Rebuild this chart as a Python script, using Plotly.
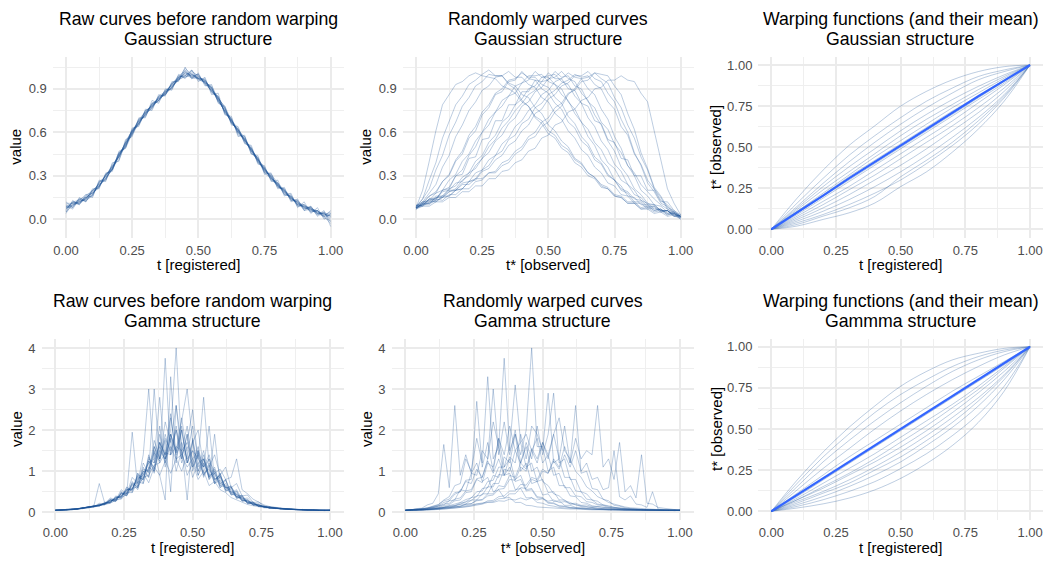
import plotly.graph_objects as go

W, H = 1053, 563
FONT = "Liberation Sans, Arial, Helvetica, sans-serif"
LINE_COL = "rgba(28, 82, 150, 0.29)"
MEAN_COL = "#3366FF"
GRID_MAJOR = "#EBEBEB"
GRID_MINOR = "#EFEFEF"

# ---------------- sampling grids ----------------
t_fine = [i / 40 for i in range(41)]      # Gaussian curves
t_gamma = [i / 50 for i in range(51)]     # Gamma curves
t_warp = [i / 10 for i in range(11)]      # warping functions

# ---------------- Gaussian structure: raw curves ----------------
gauss_raw = [
    [.09,.11,.11,.15,.19,.23,.30,.37,.43,.53, .61,.66,.74,.79,.82,.88,.93,.96,1.01,.99,
     .97,.96,.89,.84,.74,.69,.60,.56,.47,.42, .33,.30,.23,.20,.14,.12,.08,.08,.04,.04, .01],
    [.06,.12,.13,.13,.17,.25,.28,.35,.45,.51, .59,.68,.72,.77,.84,.86,.91,.98,.99,1.02,
     .99,.94,.91,.82,.76,.67,.62,.54,.49,.40, .35,.28,.25,.18,.16,.10,.10,.06,.06,.02, .03],
    [.10,.09,.14,.15,.18,.22,.31,.34,.44,.53, .58,.66,.75,.78,.82,.89,.92,.96,1.03,.98,
     .97,.96,.88,.84,.77,.66,.62,.53,.48,.42, .33,.30,.23,.20,.13,.12,.07,.08,.04,.02, .03],
    [.05,.10,.11,.16,.20,.24,.27,.37,.42,.54, .61,.68,.71,.80,.83,.86,.94,.97,.98,1.01,
     .96,.95,.91,.81,.75,.69,.59,.56,.46,.41, .36,.27,.24,.17,.16,.10,.09,.05,.06,.01, -.01],
    [.11,.11,.12,.14,.17,.25,.30,.35,.46,.50, .62,.66,.73,.77,.85,.88,.90,.98,1.00,.99,
     1.00,.93,.89,.85,.73,.68,.63,.54,.50,.39, .35,.29,.22,.21,.14,.13,.08,.06,.05,.04, .00],
    [.08,.09,.14,.12,.19,.23,.28,.38,.43,.51, .60,.69,.74,.76,.84,.87,.93,.99,1.02,.97,
     .98,.96,.90,.82,.75,.67,.61,.57,.47,.40, .34,.31,.25,.18,.15,.11,.10,.07,.03,.05, .02],
    [.07,.12,.10,.15,.16,.26,.29,.34,.45,.52, .59,.67,.72,.80,.81,.88,.91,.96,.99,1.03,
     .97,.94,.92,.83,.78,.68,.60,.55,.49,.41, .32,.28,.24,.19,.17,.09,.09,.08,.05,.03, .04],
    [.09,.08,.13,.17,.18,.22,.31,.36,.41,.52, .61,.65,.73,.79,.83,.86,.92,.97,1.04,1.00,
     .98,.95,.88,.84,.76,.69,.61,.54,.48,.42, .35,.29,.23,.19,.14,.12,.06,.07,.05,.02, -.03],
    [.04,.11,.12,.14,.20,.24,.28,.35,.44,.50, .60,.68,.74,.78,.82,.87,.93,.98,.99,.98,
     .99,.94,.89,.82,.75,.67,.62,.55,.47,.41, .34,.28,.25,.20,.15,.10,.09,.07,.04,.04, .02],
    [.08,.10,.12,.15,.18,.23,.30,.36,.43,.53, .60,.66,.73,.78,.84,.87,.91,.97,1.01,1.00,
     .97,.95,.90,.83,.74,.68,.60,.55,.48,.41, .34,.29,.24,.19,.15,.11,.08,.07,.06,.03, .05],
    [.12,.08,.15,.12,.21,.21,.32,.33,.47,.49, .63,.64,.76,.75,.86,.85,.95,.95,1.05,.97,
     1.01,.92,.93,.80,.78,.65,.64,.52,.51,.38, .37,.26,.27,.16,.18,.08,.12,.04,.08,.00, .04],
    [.05,.13,.10,.17,.15,.27,.26,.39,.40,.55, .57,.70,.70,.82,.80,.90,.89,1.00,.97,1.03,
     .95,.98,.86,.87,.72,.71,.57,.58,.45,.44, .31,.32,.21,.22,.12,.14,.06,.09,.02,.05, -.02],
    [.09,.07,.14,.13,.16,.26,.27,.35,.46,.49, .59,.69,.71,.80,.82,.89,.90,.99,.98,1.00,
     .97,.97,.87,.85,.73,.70,.58,.57,.45,.43, .32,.31,.22,.21,.13,.13,.07,.09,.03,.06, -.05],
    [.07,.12,.11,.14,.20,.22,.31,.34,.45,.50, .62,.65,.75,.77,.85,.86,.94,.96,1.02,.98,
     1.00,.93,.91,.81,.77,.66,.62,.53,.49,.39, .36,.27,.25,.17,.16,.09,.10,.05,.06,.02, .06],
]

# ---------------- Gaussian structure: warped curves ----------------
gauss_warped = [
    [.08,.20,.40,.61,.79,.86,.93,.95,.99,1.01, .99,.98,.97,.92,.90,.87,.81,.78,.71,.68,
     .61,.58,.51,.48,.41,.38,.32,.29,.24,.22, .17,.16,.12,.12,.08,.09,.06,.07,.04,.05, .02],
    [.09,.14,.27,.39,.56,.67,.79,.85,.93,.96, 1.00,1.03,.99,.99,.94,.92,.86,.84,.77,.73,
     .65,.61,.54,.50,.42,.39,.32,.29,.23,.21, .16,.15,.11,.11,.07,.08,.05,.06,.03,.04, .01],
    [.07,.12,.18,.24,.36,.44,.57,.65,.75,.81, .89,.92,.98,.99,1.02,.98,.98,.93,.91,.84,
     .81,.73,.69,.61,.56,.48,.44,.36,.32,.25, .23,.17,.16,.11,.11,.07,.08,.05,.06,.02, .03],
    [.08,.11,.16,.18,.26,.31,.41,.47,.58,.64, .74,.79,.87,.90,.96,.97,1.01,.98,.98,.93,
     .91,.84,.80,.71,.66,.57,.52,.43,.39,.31, .27,.20,.18,.12,.12,.08,.09,.05,.06,.02, .01],
    [.09,.12,.13,.18,.20,.27,.31,.40,.45,.54, .60,.69,.74,.82,.85,.92,.94,.99,.99,1.00,
     .95,.93,.86,.82,.73,.67,.57,.51,.41,.36, .27,.23,.16,.15,.10,.10,.06,.07,.03,.04, .00],
    [.08,.10,.14,.14,.20,.22,.30,.34,.44,.50, .60,.65,.74,.78,.85,.87,.94,.96,1.02,.98,
     .98,.93,.90,.81,.76,.67,.62,.53,.48,.39, .35,.27,.24,.17,.15,.10,.10,.06,.06,.02, .02],
    [.07,.11,.11,.15,.16,.21,.23,.29,.32,.40, .44,.53,.58,.67,.71,.79,.83,.90,.92,.98,
     .99,1.00,.95,.93,.85,.80,.70,.64,.54,.48, .38,.33,.24,.20,.13,.11,.07,.07,.04,.04, .01],
    [.09,.10,.14,.14,.19,.20,.25,.26,.32,.35, .42,.46,.54,.58,.66,.70,.78,.81,.88,.91,
     .97,.98,1.02,.97,.95,.87,.82,.72,.65,.54, .47,.36,.30,.21,.17,.11,.10,.06,.06,.03, .02],
    [.08,.11,.11,.15,.15,.19,.20,.25,.26,.32, .34,.41,.44,.52,.56,.64,.68,.75,.79,.86,
     .89,.95,.97,1.01,.98,.97,.90,.86,.76,.69, .57,.49,.37,.30,.20,.16,.10,.09,.05,.05, .02],
    [.08,.10,.13,.12,.16,.16,.20,.21,.26,.27, .33,.35,.41,.44,.51,.54,.61,.65,.73,.76,
     .83,.86,.92,.94,.99,.99,1.02,.97,.95,.87, .81,.69,.60,.46,.37,.25,.19,.11,.09,.04, .02],
    [.08,.10,.10,.14,.13,.17,.17,.21,.21,.26, .27,.32,.33,.39,.41,.47,.50,.57,.60,.67,
     .70,.77,.80,.87,.89,.95,.96,1.01,1.00,.99, .92,.86,.73,.62,.46,.35,.22,.16,.08,.06, .02],
    [.07,.09,.09,.12,.12,.15,.15,.19,.19,.23, .23,.28,.28,.33,.34,.39,.41,.47,.49,.56,
     .58,.65,.67,.74,.76,.82,.84,.90,.91,.96, .96,.99,.96,.95,.87,.81,.61,.42,.21,.11, .03],
    [.09,.12,.12,.16,.16,.20,.20,.24,.24,.28, .28,.32,.32,.37,.39,.45,.48,.55,.57,.64,
     .67,.74,.78,.86,.90,.97,.98,1.01,.97,.94, .84,.77,.65,.56,.43,.34,.21,.15,.07,.05, .01],
    [.08,.14,.21,.34,.44,.58,.67,.78,.84,.92, .95,1.00,.99,.99,.93,.90,.82,.78,.70,.66,
     .59,.56,.49,.46,.39,.36,.30,.28,.22,.21, .16,.15,.11,.11,.07,.07,.04,.05,.02,.03, .00],
    [.10,.09,.14,.13,.20,.21,.30,.31,.42,.43, .55,.56,.68,.68,.79,.79,.88,.88,.96,.95,
     1.01,.97,.97,.90,.89,.80,.78,.68,.66,.55, .53,.42,.41,.30,.30,.20,.20,.12,.12,.06, .03],
    [.07,.10,.11,.13,.15,.19,.21,.27,.30,.37, .42,.50,.55,.63,.68,.75,.80,.86,.89,.95,
     .96,1.02,.98,.99,.92,.90,.81,.77,.67,.62, .52,.46,.37,.32,.24,.19,.14,.10,.07,.04, .02],
    [.09,.11,.16,.19,.26,.30,.40,.45,.56,.61, .72,.77,.86,.88,.95,.96,1.02,.97,.96,.90,
     .87,.80,.76,.67,.63,.54,.50,.41,.38,.30, .27,.21,.19,.14,.13,.09,.09,.06,.06,.03, .02],
    [.08,.09,.12,.12,.15,.16,.20,.21,.26,.28, .34,.37,.44,.47,.55,.58,.66,.69,.77,.80,
     .86,.89,.94,.96,1.00,.98,.99,.93,.90,.81, .76,.64,.58,.45,.38,.27,.21,.13,.10,.05, .02],
]

# ---------------- Gaussian structure: warping functions ----------------
gauss_warps = [
    [0, .19, .36, .51, .63, .75, .84, .91, .96, .99, 1],
    [0, .16, .31, .45, .57, .68, .78, .86, .93, .97, 1],
    [0, .14, .28, .41, .53, .64, .74, .83, .91, .96, 1],
    [0, .13, .26, .38, .49, .60, .70, .79, .87, .94, 1],
    [0, .12, .24, .35, .46, .57, .67, .76, .85, .93, 1],
    [0, .11, .22, .33, .44, .54, .64, .74, .83, .92, 1],
    [0, .11, .21, .32, .42, .52, .62, .72, .81, .91, 1],
    [0, .10, .20, .30, .40, .50, .60, .70, .80, .90, 1],
    [0, .09, .19, .29, .39, .49, .59, .69, .79, .89, 1],
    [0, .08, .17, .26, .36, .46, .56, .66, .77, .88, 1],
    [0, .07, .15, .24, .33, .43, .53, .63, .74, .86, 1],
    [0, .06, .13, .21, .30, .39, .49, .60, .71, .84, 1],
    [0, .05, .11, .18, .26, .35, .45, .56, .68, .82, 1],
    [0, .04, .09, .15, .22, .30, .40, .51, .64, .80, 1],
    [0, .03, .08, .13, .20, .32, .42, .53, .66, .81, 1],
    [0, .02, .06, .10, .16, .26, .35, .47, .61, .78, 1],
]
gauss_warp_mean = [0, .10, .205, .31, .41, .515, .615, .715, .81, .905, 1]

# ---------------- Gamma structure: raw curves ----------------
gamma_raw = [
    [.05,.06,.06,.08,.07,.12,.11,.17,.15,.25, .22,.40,.33,.62,.48,.95,.70,1.40,.95,1.90,
     1.30,2.30,1.45,2.00,1.20,1.75,1.00,1.40,.80,1.05, .60,.78,.42,.50,.27,.31,.17,.19,.12,.13,
     .09,.10,.07,.08,.06,.07,.05,.06,.05,.05, .05],
    [.05,.05,.07,.06,.09,.09,.14,.13,.20,.18, .31,.27,.48,.42,.75,.58,1.10,.85,1.60,1.20,
     3.75,1.40,2.10,1.30,1.90,1.10,1.50,.90,1.20,.70, .88,.50,.60,.33,.38,.21,.23,.14,.15,.10,
     .11,.08,.09,.07,.07,.06,.06,.05,.05,.04, .05],
    [.06,.05,.06,.08,.08,.11,.12,.15,.18,.22, .24,.36,.38,.55,.56,.88,.80,1.25,1.10,1.70,
     1.40,2.00,4.00,1.50,2.10,1.20,1.60,1.00,1.30,.75, .95,.55,.65,.36,.40,.23,.24,.15,.15,.10,
     .11,.08,.09,.07,.07,.06,.05,.06,.05,.05, .04],
    [.05,.05,.06,.07,.09,.10,.13,.15,.18,.22, .30,.28,.48,.40,.68,.55,.95,.72,1.10,.90,
     1.25,.95,1.30,1.00,1.40,.85,1.20,.95,1.05,.80, .90,.60,.62,.42,.40,.27,.25,.17,.15,.12,
     .10,.10,.08,.08,.07,.06,.06,.05,.05,.05, .05],
    [.05,.06,.06,.07,.08,.11,.13,.14,.22,.20, .35,.30,.55,.45,.85,.70,1.40,3.00,1.20,2.10,
     1.10,1.80,1.00,1.50,.90,1.20,.80,1.00,.65,.75, .55,.48,.36,.30,.24,.19,.16,.13,.11,.10,
     .09,.08,.07,.07,.06,.06,.05,.05,.05,.05, .05],
    [.05,.05,.06,.06,.08,.09,.12,.14,.16,.21, .28,.30,.45,.45,.70,.65,1.00,1.00,1.60,1.30,
     2.20,1.70,2.60,1.60,.30,1.80,1.10,1.50,.85,1.10, .65,.80,.45,.52,.28,.30,.18,.19,.12,.12,
     .10,.09,.08,.07,.07,.06,.06,.05,.05,.05, .05],
    [.05,.06,.05,.07,.08,.10,.13,.15,.15,.22, .24,.38,.35,.55,.55,.85,.80,1.25,1.00,1.60,
     1.25,1.90,1.45,2.20,3.00,1.70,2.00,1.10,1.40,.80, .90,.60,.62,.38,.42,.22,.25,.14,.15,.10,
     .10,.08,.08,.07,.06,.07,.05,.06,.05,.05, .05],
    [.05,.05,.07,.07,.08,.10,.14,.14,.18,.22, .32,.30,.50,.45,1.95,.60,1.20,.95,1.75,1.30,
     1.90,1.40,2.00,1.20,1.60,1.10,1.40,.85,1.15,.70, .95,.52,.60,.35,.38,.21,.22,.15,.14,.11,
     .10,.09,.08,.07,.06,.06,.06,.05,.05,.05, .05],
    [.05,.05,.06,.07,.08,.09,.11,.13,.16,.19, .22,.30,.32,.48,.48,.75,.70,1.10,1.00,1.50,
     1.30,1.90,1.50,2.30,1.40,2.10,1.30,2.80,1.10,1.40, .90,1.10,.60,.70,.40,.42,.24,.25,.15,.14,
     .11,.09,.08,.08,.07,.06,.06,.05,.05,.05, .05],
    [.05,.05,.06,.07,.07,.10,.12,.14,.17,.21, .30,.26,.46,.40,.72,.60,1.00,.85,1.50,.90,
     .30,3.30,1.20,2.10,1.20,1.70,.90,1.30,.80,.95, .60,.70,.42,.45,.28,.28,.18,.18,.12,.12,
     .10,.09,.07,.07,.06,.06,.05,.05,.05,.05, .05],
    [.05,.06,.06,.07,.09,.10,.12,.16,.17,.23, .25,.36,.40,.56,.58,.82,.90,1.20,1.30,2.80,
     1.30,1.60,1.30,1.40,1.10,1.30,.90,1.20,.85,1.90, .70,.80,.48,.55,.32,.35,.20,.21,.13,.13,
     .10,.10,.08,.07,.07,.06,.05,.05,.05,.05, .05],
    [.05,.05,.06,.07,.08,.10,.13,.14,.17,.20, .27,.33,.40,.55,.55,.90,.85,1.30,1.20,1.70,
     1.40,2.40,1.30,2.00,1.20,1.50,1.30,1.10,2.10,.80, .85,.60,.55,.38,.35,.24,.22,.16,.14,.11,
     .10,.09,.08,.07,.07,.06,.06,.05,.05,.05, .05],
    [.05,.06,.06,.07,.09,.10,.14,.15,.70,.22, .25,.35,.38,.60,.52,.95,.78,1.35,1.05,1.70,
     1.20,1.90,1.40,1.70,1.30,1.50,1.00,1.30,.85,1.00, .70,.65,.50,.44,.33,.28,.21,.17,.13,.12,
     .10,.09,.08,.07,.07,.06,.06,.05,.05,.05, .05],
    [.05,.05,.06,.07,.08,.09,.11,.13,.16,.19, .24,.28,.37,.42,.58,.62,.85,.90,1.15,1.20,
     1.45,1.40,1.60,1.50,1.70,1.30,1.50,1.10,1.30,.95, 1.05,.80,.85,1.30,.55,.45,.32,.25,.18,.14,
     .12,.10,.09,.08,.07,.07,.06,.06,.05,.05, .05],
    [.05,.06,.06,.07,.08,.11,.12,.15,.17,.21, .26,.34,.38,.52,.60,.78,.98,1.05,1.45,1.25,
     1.75,.50,2.60,1.30,1.90,1.00,1.45,.90,1.10,.70, .78,.55,.50,.38,.31,.26,.19,.16,.13,.11,
     .10,.09,.08,.07,.07,.06,.06,.05,.05,.05, .05],
    [.05,.05,.06,.07,.08,.10,.12,.14,.18,.20, .29,.31,.44,.48,.66,.72,1.05,1.00,3.00,1.30,
     1.80,1.50,2.00,1.40,1.70,2.50,1.20,1.30,.90,.95, .65,.62,.45,.40,.29,.25,.19,.16,.13,.11,
     .10,.09,.08,.07,.07,.06,.06,.05,.05,.05, .05],
]

# ---------------- Gamma structure: warped curves ----------------
gamma_warped = [
    [.05,.06,.09,.10,.18,.22,.45,1.65,.60,2.60, .90,1.40,.95,1.20,.75,.85,.50,.55,.35,.36,
     .24,.24,.17,.16,.13,.12,.11,.10,.09,.09, .08,.08,.07,.07,.06,.06,.06,.06,.05,.05,
     .05,.05,.05,.05,.05,.05,.05,.05,.05,.04, .05],
    [.05,.05,.06,.08,.10,.14,.18,.30,.38,.65, .70,1.30,1.00,1.80,1.20,3.30,1.30,1.60,.90,.95,
     .55,.58,.35,.36,.24,.22,.17,.15,.12,.11, .10,.09,.08,.08,.07,.07,.06,.06,.06,.05,
     .05,.05,.05,.05,.05,.05,.05,.05,.05,.05, .05],
    [.05,.05,.06,.07,.09,.11,.15,.18,.28,.30, .55,.52,.95,.90,1.50,1.30,2.20,1.60,3.75,1.50,
     1.90,1.00,1.20,.70,.75,.42,.45,.26,.28,.17, .17,.12,.12,.10,.10,.08,.08,.07,.07,.06,
     .06,.06,.05,.05,.05,.05,.05,.05,.05,.05, .04],
    [.05,.06,.06,.07,.08,.11,.12,.16,.19,.28, .30,.48,.50,.80,.72,1.20,1.10,1.80,1.40,2.10,
     1.50,1.70,1.10,1.20,.75,.80,.48,.50,.30,.30, .20,.19,.14,.13,.11,.10,.09,.08,.07,.07,
     .06,.06,.05,.05,.05,.05,.05,.05,.05,.05, .05],
    [.05,.05,.06,.06,.07,.08,.10,.12,.15,.16, .23,.24,.36,.38,.58,.60,.90,.85,1.35,1.20,
     1.90,1.40,2.00,4.00,1.60,1.60,1.00,1.10,.65,.65, .40,.38,.24,.22,.16,.14,.12,.10,.09,.08,
     .07,.07,.06,.06,.05,.05,.05,.05,.05,.05, .05],
    [.05,.05,.06,.06,.07,.08,.09,.11,.13,.15, .20,.20,.30,.30,.45,.45,.70,.70,1.05,1.00,
     1.50,1.20,1.70,1.30,2.10,1.40,1.90,2.90,1.20,1.30, .80,.80,.50,.45,.30,.27,.18,.16,.12,.10,
     .09,.08,.07,.06,.06,.06,.05,.05,.05,.05, .05],
    [.05,.05,.05,.06,.06,.07,.08,.09,.11,.13, .15,.19,.21,.28,.30,.40,.42,.56,.58,.80,
     .78,1.10,1.00,1.50,1.20,1.70,1.30,1.90,1.30,2.10, 1.20,2.60,.95,1.00,.58,.55,.32,.28,.17,.15,
     .11,.09,.08,.07,.06,.06,.05,.05,.05,.05, .05],
    [.05,.05,.05,.06,.06,.06,.07,.08,.09,.10, .11,.13,.15,.17,.20,.24,.26,.33,.34,.45,
     .45,.60,.58,.80,.75,1.00,.95,1.30,1.10,1.60, 1.20,1.80,1.30,1.50,1.40,2.60,1.10,1.30,.80,1.70,
     .50,.65,.35,1.40,.22,.20,.12,.10,.08,.06, .05],
    [.05,.05,.05,.06,.06,.07,.07,.08,.09,.10, .12,.14,.16,.20,.21,.28,.29,.38,.40,.52,
     .52,.68,.66,.85,.80,1.05,.95,1.25,1.05,1.40, 1.10,1.50,1.00,1.20,.80,.85,.55,.60,1.50,.38,
     .30,.40,.20,.18,.12,.50,.08,.07,.06,.05, .05],
    [.05,.05,.06,.06,.07,.08,.09,.10,.11,.13, .14,.16,.18,.20,.22,.25,.24,.28,.27,.32,
     .30,.35,.30,.35,.30,.33,.27,.30,.24,.26, .21,.22,.17,.18,.14,.14,.12,.11,.09,.09,
     .08,.07,.07,.06,.06,.06,.05,.05,.05,.05, .05],
    [.05,.06,.07,.08,.10,.12,.15,.20,.22,.32, .35,.52,.55,.82,.85,1.30,3.00,1.40,2.20,1.40,
     2.00,1.20,1.60,1.00,1.10,.75,.65,.45,.40,.28, .24,.18,.16,.13,.11,.10,.09,.08,.07,.07,
     .06,.06,.05,.05,.05,.05,.05,.05,.05,.05, .05],
    [.05,.05,.06,.06,.07,.08,.10,.12,.14,.17, .19,.27,.28,.40,.42,.62,.62,.92,.90,1.35,
     1.20,1.90,1.30,2.10,1.90,1.50,2.90,1.20,1.30,.85, .85,.52,.50,.32,.30,.20,.18,.14,.12,.10,
     .09,.08,.07,.07,.06,.06,.05,.05,.05,.05, .05],
    [.05,.06,.07,.08,.10,.13,.16,.24,.28,.44, .50,.78,.80,2.70,1.10,1.70,1.00,1.80,1.10,1.30,
     .80,.90,.55,.58,.38,.36,.24,.23,.16,.15, .12,.11,.09,.09,.08,.07,.07,.06,.06,.06,
     .05,.05,.05,.05,.05,.05,.05,.05,.05,.05, .05],
    [.05,.05,.05,.06,.07,.07,.08,.10,.11,.13, .15,.20,.21,.30,.31,.45,.45,.65,.62,.90,
     .85,1.20,1.05,1.55,1.30,1.70,1.40,1.90,2.30,1.50, 1.30,1.00,.85,.62,.52,.38,.32,.24,.20,.16,
     .13,.11,.10,.09,.08,.07,.06,.06,.05,.05, .05],
    [.05,.06,.07,.09,.11,.15,.19,.28,.32,.48, .50,.75,.70,1.05,.85,1.25,.95,1.30,.90,1.10,
     .75,.80,.52,.55,.35,.34,.22,.21,.15,.14, .11,.10,.09,.08,.08,.07,.07,.06,.06,.06,
     .05,.05,.05,.05,.05,.05,.05,.05,.05,.05, .05],
    [.05,.05,.06,.07,.08,.09,.11,.13,.16,.20, .24,.31,.35,.50,.52,.75,.78,1.10,1.10,1.60,
     3.10,1.70,1.90,1.50,1.80,1.20,1.40,.90,.95,.60, .60,.40,.38,.26,.24,.18,.16,.12,.11,.09,
     .08,.08,.07,.06,.06,.06,.05,.05,.05,.05, .05],
]

# ---------------- Gamma structure: warping functions ----------------
gamma_warps = [
    [0, .19, .36, .51, .64, .76, .85, .92, .96, .99, 1],
    [0, .17, .33, .47, .60, .71, .80, .88, .94, .98, 1],
    [0, .15, .30, .43, .55, .66, .76, .85, .92, .97, 1],
    [0, .13, .26, .38, .50, .61, .71, .80, .88, .95, 1],
    [0, .11, .22, .33, .43, .53, .63, .73, .82, .91, 1],
    [0, .09, .19, .29, .39, .49, .59, .69, .79, .89, 1],
    [0, .08, .17, .26, .35, .45, .55, .65, .76, .88, 1],
    [0, .07, .15, .23, .32, .42, .52, .63, .74, .87, 1],
    [0, .07, .14, .22, .30, .39, .49, .60, .72, .85, 1],
    [0, .06, .12, .19, .27, .36, .46, .57, .69, .83, 1],
    [0, .05, .11, .17, .25, .33, .43, .54, .67, .82, 1],
    [0, .04, .09, .15, .22, .30, .40, .51, .64, .80, 1],
    [0, .03, .07, .12, .18, .26, .35, .46, .59, .76, 1],
    [0, .02, .045, .08, .13, .20, .29, .40, .54, .73, 1],
]
gamma_warp_mean = [0, .10, .20, .30, .40, .50, .60, .70, .80, .90, 1]

# ---------------- panel text ----------------
titles = [
    ("Raw curves before random warping", "Gaussian structure"),
    ("Randomly warped curves", "Gaussian structure"),
    ("Warping functions (and their mean)", "Gaussian structure"),
    ("Raw curves before random warping", "Gamma structure"),
    ("Randomly warped curves", "Gamma structure"),
    ("Warping functions (and their mean)", "Gammma structure"),
]
x_titles = ["t [registered]", "t* [observed]", "t [registered]",
            "t [registered]", "t* [observed]", "t [registered]"]
y_titles = ["value", "value", "t* [observed]", "value", "value", "t* [observed]"]

# ---------------- panel geometry (pixels) ----------------
# (left, right, top, bottom) of each plotting region
boxes = [
    (52.8, 343.9, 56.8, 237.5),
    (402.8, 693.9, 56.8, 237.5),
    (758.4, 1043.0, 56.8, 237.5),
    (41.6, 343.7, 338.5, 519.5),
    (391.6, 693.7, 338.5, 519.5),
    (758.4, 1043.0, 338.5, 519.5),
]
y_ranges = [[-0.126, 1.121], [-0.126, 1.121], [-0.05, 1.05],
            [-0.175, 4.23], [-0.175, 4.23], [-0.05, 1.05]]
y_dticks = [0.3, 0.3, 0.25, 1, 1, 0.25]
y_formats = [".1f", ".1f", ".2f", "d", "d", ".2f"]
ytitle_x = [15.5, 365.5, 715.0, 16.0, 366.0, 716.0]

TICK_FONT = dict(family=FONT, size=13, color="#4D4D4D")

fig = go.Figure()


def add_lines(idx, xs, curves, shape="linear"):
    ax = "" if idx == 0 else str(idx + 1)
    for ys in curves:
        assert len(ys) == len(xs)
        fig.add_trace(go.Scatter(
            x=xs, y=ys, mode="lines", xaxis="x" + ax, yaxis="y" + ax,
            line=dict(color=LINE_COL, width=1, shape=shape),
            hoverinfo="skip", showlegend=False))


def add_mean(idx, xs, ys):
    ax = str(idx + 1)
    fig.add_trace(go.Scatter(
        x=xs, y=ys, mode="lines", xaxis="x" + ax, yaxis="y" + ax,
        line=dict(color=MEAN_COL, width=2.2),
        hoverinfo="skip", showlegend=False))


add_lines(0, t_fine, gauss_raw)
add_lines(1, t_fine, gauss_warped)
add_lines(2, t_warp, gauss_warps, shape="spline")
add_mean(2, t_warp, gauss_warp_mean)
add_lines(3, t_gamma, gamma_raw)
add_lines(4, t_gamma, gamma_warped)
add_lines(5, t_warp, gamma_warps, shape="spline")
add_mean(5, t_warp, gamma_warp_mean)

annotations = []
layout_axes = {}
for i, (l, r, tp, bt) in enumerate(boxes):
    ax = "" if i == 0 else str(i + 1)
    layout_axes["xaxis" + ax] = dict(
        domain=[l / W, r / W], anchor="y" + ax, range=[-0.05, 1.05],
        tick0=0, dtick=0.25, tickformat=".2f", showline=False, zeroline=False,
        showgrid=True, gridcolor=GRID_MAJOR, gridwidth=2,
        minor=dict(tick0=0, dtick=0.125, showgrid=True, gridcolor=GRID_MINOR, gridwidth=1),
        ticks="", ticklabelstandoff=3, tickfont=TICK_FONT, fixedrange=True)
    dt = y_dticks[i]
    layout_axes["yaxis" + ax] = dict(
        domain=[1 - bt / H, 1 - tp / H], anchor="x" + ax, range=y_ranges[i],
        tick0=0, dtick=dt, tickformat=y_formats[i], showline=False, zeroline=False,
        showgrid=True, gridcolor=GRID_MAJOR, gridwidth=2,
        minor=dict(tick0=0, dtick=dt / 2, showgrid=True, gridcolor=GRID_MINOR, gridwidth=1),
        ticks="", ticklabelstandoff=5, tickfont=TICK_FONT, fixedrange=True)

    cx = (l + r) / 2
    line1, line2 = titles[i]
    for k, txt in enumerate((line1, line2)):
        annotations.append(dict(
            text=txt, x=cx / W, y=1 - (tp - 38 + 20.5 * k) / H,
            xref="paper", yref="paper", xanchor="center", yanchor="middle",
            showarrow=False, font=dict(family=FONT, size=17.7, color="black")))
    annotations.append(dict(
        text=x_titles[i], x=cx / W, y=1 - (bt + 27.5) / H,
        xref="paper", yref="paper", xanchor="center", yanchor="middle",
        showarrow=False, font=dict(family=FONT, size=15, color="black")))
    annotations.append(dict(
        text=y_titles[i], x=ytitle_x[i] / W, y=1 - ((tp + bt) / 2) / H,
        xref="paper", yref="paper", xanchor="center", yanchor="middle", textangle=-90,
        showarrow=False, font=dict(family=FONT, size=15, color="black")))

fig.update_layout(
    width=W, height=H, margin=dict(l=0, r=0, t=0, b=0),
    paper_bgcolor="white", plot_bgcolor="white",
    showlegend=False, hovermode=False,
    font=dict(family=FONT),
    annotations=annotations,
    **layout_axes,
)

fig.write_html("out.html", config=dict(displayModeBar=False, staticPlot=True))
